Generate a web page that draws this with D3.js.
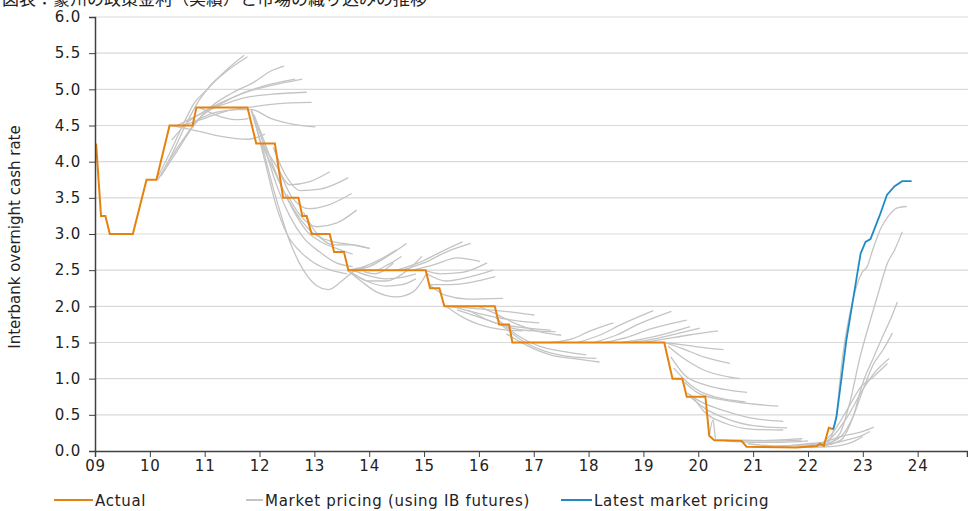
<!DOCTYPE html>
<html>
<head>
<meta charset="utf-8">
<script src="https://cdn.jsdelivr.net/npm/d3@7"></script>
<style>
  body { margin: 0; background: #fff; }
  svg { display: block; font-family: "DejaVu Sans", Verdana, sans-serif; }
</style>
</head>
<body>
<script>
// values (decimal year, % rate)
const actual = [
  [2009.02,4.25],[2009.11,3.25],[2009.19,3.25],[2009.27,3.0],[2009.69,3.0],[2009.94,3.75],
  [2010.12,3.75],[2010.36,4.5],[2010.78,4.5],[2010.85,4.75],[2011.78,4.75],[2011.94,4.25],
  [2012.28,4.25],[2012.43,3.5],[2012.71,3.5],[2012.78,3.25],[2012.86,3.25],[2012.95,3.0],
  [2013.28,3.0],[2013.36,2.75],[2013.54,2.75],[2013.62,2.5],[2015.03,2.5],[2015.11,2.25],
  [2015.28,2.25],[2015.37,2.0],[2016.29,2.0],[2016.37,1.75],[2016.55,1.75],[2016.61,1.5],
  [2019.38,1.5],[2019.53,1.0],[2019.71,1.0],[2019.79,0.75],[2020.13,0.75],[2020.2,0.21],
  [2020.29,0.15],[2020.79,0.14],[2020.88,0.06],[2021.79,0.05],[2022.16,0.07],[2022.22,0.1],
  [2022.29,0.07],[2022.38,0.32],[2022.46,0.3]
];

const latestPricing = [
  [2022.46,0.3],[2022.52,0.47],[2022.7,1.53],[2022.96,2.73],[2023.05,2.89],[2023.14,2.93],
  [2023.31,3.26],[2023.44,3.54],[2023.58,3.66],[2023.72,3.73],[2023.89,3.73]
];

// each entry = one historical market pricing curve
const marketPricing = [
  // 2010-2012
  [[2010.12,3.75],[2010.35,4.1],[2010.6,4.5],[2010.8,4.8],[2011.05,5.0],[2011.3,5.2],[2011.72,5.47]],
  [[2010.15,3.75],[2010.4,4.1],[2010.65,4.5],[2010.9,4.85],[2011.1,5.05],[2011.4,5.25],[2011.78,5.45]],
  [[2010.2,3.8],[2010.5,4.15],[2010.8,4.5],[2011.1,4.75],[2011.5,4.95],[2011.9,5.1],[2012.2,5.25],[2012.45,5.32]],
  [[2010.3,3.95],[2010.6,4.3],[2010.9,4.6],[2011.3,4.8],[2011.7,4.95],[2012.1,5.05],[2012.65,5.14]],
  [[2010.4,4.3],[2010.7,4.55],[2011.0,4.7],[2011.4,4.85],[2011.8,4.97],[2012.2,5.05],[2012.78,5.14]],
  [[2010.5,4.5],[2010.9,4.65],[2011.3,4.78],[2011.7,4.88],[2012.2,4.93],[2012.86,4.96]],
  [[2010.6,4.5],[2011.0,4.6],[2011.4,4.7],[2011.8,4.75],[2012.3,4.8],[2012.95,4.82]],
  [[2010.8,4.55],[2011.2,4.68],[2011.6,4.72],[2011.85,4.72],[2012.2,4.6],[2012.6,4.52],[2013.02,4.48]],
  [[2010.4,4.5],[2010.9,4.42],[2011.3,4.35],[2011.8,4.31],[2012.1,4.38]],
  [[2010.9,4.75],[2011.3,4.62],[2011.6,4.58],[2011.8,4.6]],
  // 2012-2014
  [[2011.85,4.7],[2012.05,4.2],[2012.3,3.5],[2012.55,2.9],[2012.8,2.5],[2013.05,2.28],[2013.25,2.23],[2013.5,2.35],[2013.75,2.5],[2013.95,2.55]],
  [[2011.85,4.72],[2012.05,4.3],[2012.3,3.7],[2012.55,3.25],[2012.8,2.95],[2013.1,2.75],[2013.4,2.6],[2013.7,2.55]],
  [[2011.9,4.65],[2012.1,4.25],[2012.35,3.75],[2012.6,3.35],[2012.85,3.05],[2013.1,2.9],[2013.4,2.8],[2013.7,2.72]],
  [[2012.0,4.3],[2012.25,3.9],[2012.5,3.5],[2012.75,3.2],[2013.0,3.0],[2013.3,2.9],[2013.7,2.85],[2014.01,2.8]],
  [[2011.9,4.6],[2012.1,4.0],[2012.3,3.4],[2012.5,3.0],[2012.75,2.75],[2013.0,2.6],[2013.3,2.5],[2013.6,2.45]],
  [[2012.05,4.25],[2012.3,3.95],[2012.55,3.68],[2012.9,3.72],[2013.28,3.86]],
  [[2012.25,4.2],[2012.45,3.85],[2012.75,3.6],[2013.1,3.62],[2013.62,3.78]],
  [[2012.35,3.9],[2012.6,3.5],[2012.9,3.35],[2013.25,3.4],[2013.68,3.56]],
  [[2012.5,3.55],[2012.75,3.25],[2013.05,3.1],[2013.4,3.15],[2013.77,3.33]],
  [[2012.8,3.3],[2013.05,3.0],[2013.35,2.85],[2013.7,2.85],[2014.0,2.8]],
  // 2013-2015
  [[2013.6,2.5],[2013.9,2.55],[2014.2,2.65],[2014.5,2.78]],
  [[2013.7,2.5],[2014.0,2.55],[2014.35,2.7],[2014.68,2.87]],
  [[2013.8,2.5],[2014.1,2.5],[2014.35,2.58],[2014.59,2.69]],
  [[2013.9,2.48],[2014.1,2.45],[2014.44,2.6]],
  [[2013.7,2.45],[2014.0,2.35],[2014.3,2.35],[2014.7,2.5],[2014.96,2.69]],
  [[2013.6,2.5],[2013.85,2.35],[2014.13,2.2],[2014.5,2.13],[2014.8,2.2],[2015.05,2.46]],
  [[2013.65,2.48],[2013.95,2.35],[2014.3,2.28],[2014.6,2.3],[2014.85,2.38]],
  [[2013.7,2.5],[2014.0,2.42],[2014.3,2.38],[2014.6,2.4],[2014.85,2.45]],
  // 2015-2016
  [[2014.5,2.5],[2014.9,2.6],[2015.3,2.75],[2015.7,2.89]],
  [[2014.6,2.5],[2015.0,2.6],[2015.4,2.75],[2015.85,2.87]],
  [[2014.8,2.5],[2015.2,2.58],[2015.6,2.67],[2016.02,2.62]],
  [[2015.0,2.5],[2015.3,2.45],[2015.7,2.47],[2016.15,2.6]],
  [[2015.05,2.45],[2015.4,2.35],[2015.8,2.4],[2016.26,2.5]],
  [[2015.1,2.3],[2015.5,2.3],[2016.3,2.41]],
  [[2015.1,2.3],[2015.4,2.15],[2015.8,2.1],[2016.44,2.11]],
  // 2015-2018
  [[2015.4,2.0],[2015.8,1.98],[2016.2,1.95],[2016.6,1.92],[2017.01,1.88]],
  [[2015.5,2.0],[2015.9,1.92],[2016.3,1.85],[2016.7,1.8],[2017.1,1.77]],
  [[2015.6,1.95],[2016.0,1.85],[2016.4,1.75],[2016.9,1.7],[2017.31,1.67]],
  [[2015.8,1.95],[2016.2,1.8],[2016.6,1.7],[2017.0,1.66],[2017.4,1.65]],
  [[2015.4,2.0],[2015.7,1.85],[2016.0,1.75],[2016.4,1.68],[2016.8,1.66]],
  [[2016.0,2.0],[2016.3,1.9],[2016.7,1.75],[2017.1,1.65],[2017.5,1.6]],
  [[2016.3,1.85],[2016.7,1.6],[2017.1,1.45],[2017.5,1.38],[2017.96,1.33]],
  [[2016.4,1.75],[2016.8,1.52],[2017.2,1.38],[2017.7,1.3],[2018.14,1.28]],
  [[2016.5,1.62],[2016.9,1.45],[2017.3,1.33],[2017.8,1.27],[2018.2,1.23]],
  // 2017-2020
  [[2017.3,1.5],[2017.7,1.55],[2018.0,1.65],[2018.45,1.77]],
  [[2017.8,1.5],[2018.2,1.6],[2018.6,1.75],[2019.18,1.94]],
  [[2018.1,1.5],[2018.5,1.6],[2018.9,1.75],[2019.51,1.93]],
  [[2018.3,1.5],[2018.7,1.57],[2019.1,1.68],[2019.79,1.81]],
  [[2018.6,1.5],[2019.0,1.55],[2019.4,1.62],[2019.85,1.72]],
  [[2018.8,1.5],[2019.2,1.55],[2019.6,1.62],[2020.03,1.7]],
  [[2019.0,1.5],[2019.4,1.55],[2019.8,1.6],[2020.36,1.66]],
  // 2019-2021
  [[2019.38,1.5],[2019.8,1.46],[2020.1,1.43],[2020.46,1.4]],
  [[2019.38,1.5],[2019.7,1.42],[2020.1,1.3],[2020.58,1.21]],
  [[2019.45,1.45],[2019.7,1.3],[2020.1,1.12],[2020.76,1.0]],
  [[2019.5,1.3],[2019.75,1.05],[2020.1,0.92],[2020.89,0.81]],
  [[2019.55,1.15],[2019.8,0.95],[2020.1,0.8],[2020.86,0.68]],
  [[2019.75,0.95],[2020.0,0.8],[2020.5,0.7],[2021.0,0.65],[2021.46,0.62]],
  [[2019.8,0.8],[2020.0,0.7],[2020.5,0.55],[2021.0,0.45],[2021.55,0.41]],
  [[2019.85,0.75],[2020.1,0.6],[2020.5,0.45],[2021.0,0.35],[2021.62,0.32]],
  [[2019.9,0.75],[2020.1,0.55],[2020.5,0.38],[2021.0,0.3],[2021.55,0.29]],
  // 2020-2022
  [[2020.2,0.2],[2020.27,0.43],[2020.32,0.15],[2020.8,0.15],[2021.5,0.14],[2021.88,0.15]],
  [[2020.3,0.15],[2020.8,0.14],[2021.4,0.15],[2021.9,0.17]],
  [[2020.5,0.14],[2021.0,0.12],[2021.5,0.12],[2022.0,0.14]],
  [[2020.9,0.1],[2021.4,0.07],[2021.9,0.08],[2022.2,0.1]],
  [[2021.0,0.05],[2021.5,0.06],[2022.0,0.1],[2022.3,0.12]],
  [[2021.3,0.05],[2021.8,0.05],[2022.2,0.07],[2022.45,0.1]],
  // 2022-2023
  [[2021.8,0.05],[2022.2,0.1],[2022.6,0.2],[2023.0,0.27],[2023.2,0.33]],
  [[2021.9,0.05],[2022.3,0.08],[2022.7,0.15],[2023.0,0.22],[2023.13,0.27]],
  [[2022.0,0.05],[2022.4,0.06],[2022.8,0.12],[2023.0,0.2]],
  [[2022.2,0.07],[2022.45,0.2],[2022.7,0.45],[2023.0,0.85],[2023.2,1.07],[2023.48,1.28]],
  [[2022.2,0.07],[2022.45,0.25],[2022.7,0.55],[2022.98,0.9],[2023.15,1.0],[2023.45,1.21]],
  [[2022.25,0.08],[2022.6,0.2],[2022.82,0.47],[2023.0,0.84],[2023.2,1.21],[2023.37,1.4],[2023.54,1.63]],
  [[2022.3,0.08],[2022.6,0.15],[2022.82,0.47],[2023.0,0.94],[2023.2,1.3],[2023.36,1.58],[2023.5,1.81],[2023.63,2.06]],
  [[2022.3,0.07],[2022.58,0.24],[2022.76,0.66],[2022.95,1.3],[2023.13,1.79],[2023.3,2.23],[2023.45,2.6],[2023.58,2.78],[2023.72,3.03]],
  [[2022.35,0.1],[2022.5,0.4],[2022.63,1.3],[2022.82,2.09],[2022.98,2.46],[2023.08,2.55],[2023.18,2.78],[2023.33,3.08],[2023.48,3.26],[2023.63,3.36],[2023.8,3.38]]
];

const yTicks = [0,0.5,1,1.5,2,2.5,3,3.5,4,4.5,5,5.5,6];
const xTicks = d3.range(2009, 2025);
const legendItems = [
  {label: "Actual", color: "#e5820f"},
  {label: "Market pricing (using IB futures)", color: "#c4c4c4"},
  {label: "Latest market pricing", color: "#1f8ac8"}
];
const titleText = "図表：豪州の政策金利（実績）と市場の織り込みの推移";

const width = 968, height = 511;

const svg = d3.select("body").append("svg")
    .attr("width", width)
    .attr("height", height);

const x = d3.scaleLinear().domain([2009, 2024.9]).range([95, 967]);
const y = d3.scaleLinear().domain([0, 6]).range([451, 17]);

// title, cut off at the top edge as in the source
svg.append("text")
    .attr("x", 2)
    .attr("y", 5)
    .style("font-family", "'Noto Sans CJK JP', sans-serif")
    .style("font-size", "17px")
    .attr("fill", "#222")
    .text(titleText);

// grid
svg.append("g")
    .selectAll("line")
    .data(yTicks.filter(d => d > 0))
    .enter().append("line")
    .attr("x1", x(2009)).attr("x2", width)
    .attr("y1", d => y(d)).attr("y2", d => y(d))
    .attr("stroke", "#d9d9d9")
    .attr("stroke-width", 1.2);

// market pricing curves
const smooth = d3.line()
    .x(d => x(d[0])).y(d => y(d[1]))
    .curve(d3.curveMonotoneX);

svg.append("g")
    .selectAll("path")
    .data(marketPricing)
    .enter().append("path")
    .attr("d", smooth)
    .attr("fill", "none")
    .attr("stroke", "#c4c4c4")
    .attr("stroke-width", 1.3);

const straight = d3.line().x(d => x(d[0])).y(d => y(d[1]));

svg.append("path")
    .attr("d", straight(actual))
    .attr("fill", "none")
    .attr("stroke", "#e5820f")
    .attr("stroke-width", 2);

svg.append("path")
    .attr("d", straight(latestPricing))
    .attr("fill", "none")
    .attr("stroke", "#1f8ac8")
    .attr("stroke-width", 1.8);

// axes
const yAxis = svg.append("g")
    .attr("transform", `translate(${x(2009)},0)`)
    .call(d3.axisLeft(y).tickValues(yTicks).tickFormat(d3.format(".1f")).tickSizeOuter(0).tickSize(6));

const xAxis = svg.append("g")
    .attr("transform", `translate(0,${y(0)})`)
    .call(d3.axisBottom(x).tickValues(xTicks)
        .tickFormat(d => String(d % 100).padStart(2, "0"))
        .tickSizeOuter(0).tickSize(6));

[yAxis, xAxis].forEach(a => {
    a.select(".domain").attr("stroke", "#404040").attr("stroke-width", 1.5);
    a.selectAll(".tick line").attr("stroke", "#404040");
    a.selectAll("text").attr("fill", "#222")
        .style("font-family", "'DejaVu Sans', Verdana, sans-serif")
        .style("font-size", "15px")
        .style("letter-spacing", "0.8px");
});
yAxis.selectAll("text").attr("x", -14);
xAxis.selectAll("text").attr("y", 9);

svg.append("text")
    .attr("transform", "translate(20,237) rotate(-90)")
    .attr("text-anchor", "middle")
    .attr("fill", "#222")
    .style("font-size", "15px")
    .text("Interbank overnight cash rate");

// legend
const legendX = [[54, 93], [246, 263], [561, 592]];
const legend = svg.append("g")
    .selectAll("g")
    .data(legendItems)
    .enter().append("g");

legend.append("line")
    .attr("x1", (d, i) => legendX[i][0]).attr("x2", (d, i) => legendX[i][1])
    .attr("y1", 500).attr("y2", 500)
    .attr("stroke", d => d.color)
    .attr("stroke-width", 2);

legend.append("text")
    .attr("x", (d, i) => legendX[i][1] + 2)
    .attr("y", 505.5)
    .attr("fill", "#222")
    .style("font-size", "15px")
    .style("letter-spacing", "0.7px")
    .text(d => d.label);
</script>
</body>
</html>
